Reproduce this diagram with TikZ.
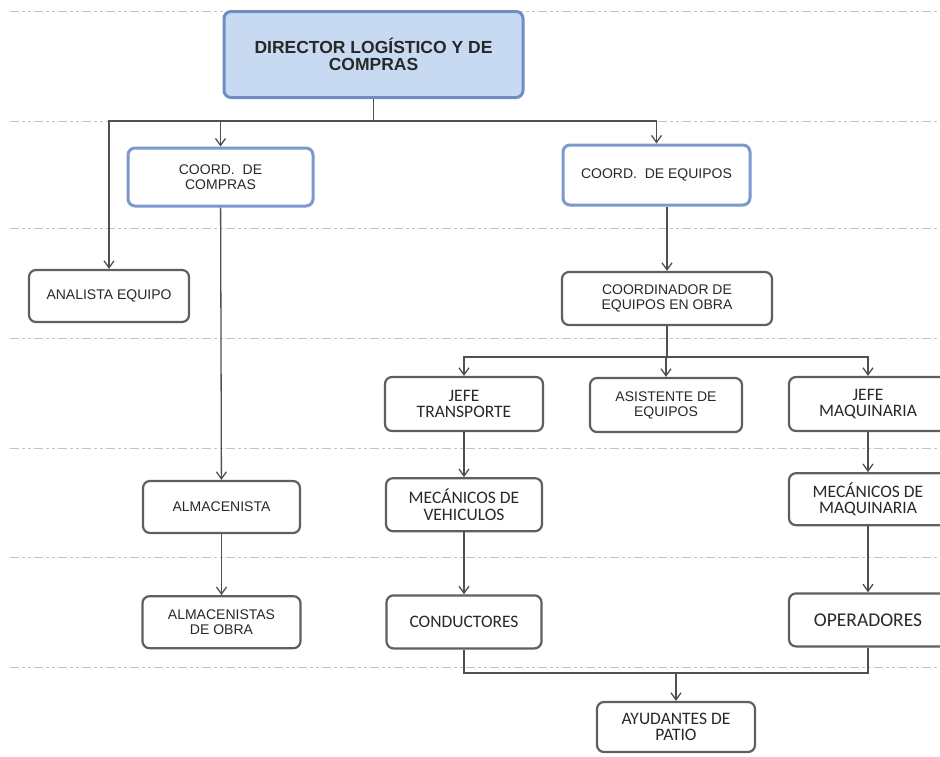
\documentclass[tikz,border=0pt]{standalone}
\usepackage{fontspec}
\setmainfont{Liberation Sans}
\newfontfamily\calib{Carlito}
\usepackage{tikz}
\usetikzlibrary{arrows.meta, positioning}

\definecolor{boxgray}{RGB}{95,95,95}
\definecolor{boxblue}{RGB}{125,152,205}
\definecolor{dirfill}{RGB}{200,218,241}
\definecolor{dirline}{RGB}{112,140,196}
\definecolor{linegray}{RGB}{80,80,80}
\definecolor{guidegray}{RGB}{195,195,195}
\definecolor{txtgray}{RGB}{40,40,40}

\begin{document}
\begin{tikzpicture}[
  x=1pt, y=-1pt,
  every node/.style={text=txtgray},
  dims/.style 2 args={minimum width=#1pt, minimum height=#2pt},
  box/.style={rectangle, draw=boxgray, line width=2.2pt, rounded corners=7pt, fill=white, align=center, inner sep=2pt, font=\fontsize{14}{15}\selectfont},
  narrowbox/.style={box, font=\calib\fontsize{17.5}{16.5}\selectfont},
  coordbox/.style={box, draw=boxblue, line width=3pt},
  topbox/.style={coordbox, draw=dirline, fill=dirfill, font=\bfseries\fontsize{17.5}{17.5}\selectfont},
  guide/.style={draw=guidegray, line width=0.9pt, dash pattern=on 9pt off 3pt on 3pt off 3pt on 3pt off 3pt},
  conn/.style={draw=linegray, line width=1.3pt},
  arr/.style={conn, -{Straight Barb[length=7pt, width=10pt]}}
]
\useasboundingbox (0,0) rectangle (940,756);

% Guide lines
\foreach \y in {11,121,228,338,448,557,667}
  \draw[guide] (10,\y) -- (940,\y);

% Nodes
\node[topbox, dims={299}{86}] (dir) at (373.5,54.5) {DIRECTOR LOGÍSTICO Y DE\\COMPRAS};
\node[coordbox, dims={185}{58}] (compras) at (220.5,177) {COORD.\ \ DE\\COMPRAS};
\node[coordbox, dims={187}{60}] (equipos) at (656.5,175) {COORD.\ \ DE EQUIPOS};
\node[box, dims={160}{52}] (analista) at (109,296) {ANALISTA EQUIPO};
\node[box, dims={210}{53}] (obra) at (667,298.5) {COORDINADOR DE\\EQUIPOS EN OBRA};

% Equipos branch
\node[narrowbox, dims={158}{54}] (jtrans) at (464,404) {JEFE\\TRANSPORTE};
\node[box, dims={152}{54}] (asist) at (666,405) {ASISTENTE DE\\EQUIPOS};
\node[narrowbox, dims={158}{54}] (jmaq) at (868,404) {JEFE\\MAQUINARIA};
\node[narrowbox, dims={156}{53}, below=45pt of jtrans] (mecveh) {MECÁNICOS DE\\VEHICULOS};
\node[narrowbox, dims={158}{52}, below=40pt of jmaq] (mecmaq) {MECÁNICOS DE\\MAQUINARIA};
\node[narrowbox, dims={155}{53}, below=62pt of mecveh] (cond) {CONDUCTORES};
\node[narrowbox, dims={158}{53}, below=66pt of mecmaq, font=\calib\fontsize{19.5}{16}\selectfont] (oper) {OPERADORES};
\node[narrowbox, dims={158}{50}] (ayud) at (676,727) {AYUDANTES DE\\PATIO};

% Compras branch
\node[box, dims={157}{52}] (almac) at (221.5,507) {ALMACENISTA};
\node[box, dims={158}{52}, below=61pt of almac] (almobra) {ALMACENISTAS\\DE OBRA};

% Junctions
\coordinate (hubdir) at (373.5,121);
\coordinate (hubobra) at (667,357);
\coordinate (hubpatio) at (676,673);

% Edges
\draw[conn] (dir) -- (hubdir);
\draw[arr] (hubdir) -| (analista);
\draw[arr] (hubdir) -| (compras);
\draw[arr] (hubdir) -| (equipos);
\draw[arr] (compras) -- (almac);
\draw[arr] (almac) -- (almobra);
\draw[arr] (equipos.south -| obra) -- (obra);
\draw[conn] (obra) -- (hubobra);
\draw[arr] (hubobra) -| (jtrans);
\draw[arr] (hubobra) -| (asist);
\draw[arr] (hubobra) -| (jmaq);
\draw[arr] (jtrans) -- (mecveh);
\draw[arr] (mecveh) -- (cond);
\draw[arr] (jmaq) -- (mecmaq);
\draw[arr] (mecmaq) -- (oper);
\draw[conn] (cond) |- (hubpatio) -| (oper);
\draw[arr] (hubpatio) -- (ayud);

\end{tikzpicture}
\end{document}
